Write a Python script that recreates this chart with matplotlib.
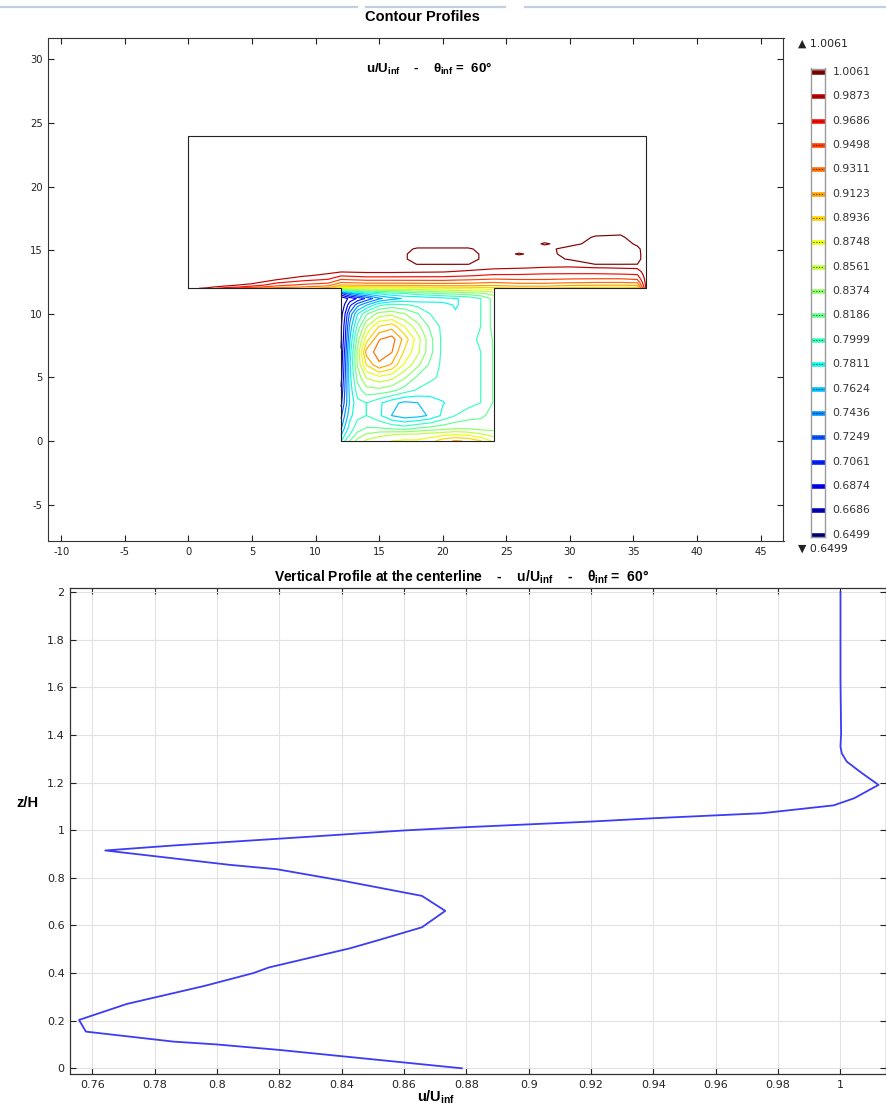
import numpy as np
import matplotlib
matplotlib.use("Agg")
import matplotlib.pyplot as plt
from matplotlib import font_manager
from matplotlib.colors import Normalize
from matplotlib.ticker import FuncFormatter
from matplotlib.lines import Line2D

plt.rcParams["axes.unicode_minus"] = False

# ---------------- data ----------------
# contour levels (legend values)
levels = [0.6499, 0.6686, 0.6874, 0.7061, 0.7249, 0.7436, 0.7624, 0.7811, 0.7999, 0.8186,
          0.8374, 0.8561, 0.8748, 0.8936, 0.9123, 0.9311, 0.9498, 0.9686, 0.9873, 1.0061]
vmin_label = "0.6499"
vmax_label = "1.0061"

# cavity field u/Uinf (rows = cav_y, cols = cav_x)
cav_x = [12, 12.3, 12.7, 13.3, 14, 15, 16, 17, 18, 19, 20, 21, 22, 23, 24]
cav_y = [0, 0.5, 1, 2, 3, 4, 5, 6, 7, 8, 9, 10, 10.7, 11.2, 11.6, 12]
cav_u = [
    [0.780, 0.800, 0.820, 0.845, 0.860, 0.870, 0.875, 0.878, 0.878, 0.885, 0.905, 0.915, 0.910, 0.895, 0.870],
    [0.760, 0.780, 0.800, 0.825, 0.840, 0.850, 0.855, 0.860, 0.860, 0.865, 0.870, 0.875, 0.870, 0.860, 0.850],
    [0.740, 0.765, 0.790, 0.810, 0.820, 0.820, 0.815, 0.810, 0.820, 0.825, 0.830, 0.835, 0.835, 0.830, 0.830],
    [0.720, 0.745, 0.775, 0.795, 0.800, 0.785, 0.762, 0.752, 0.755, 0.765, 0.785, 0.800, 0.810, 0.815, 0.825],
    [0.700, 0.730, 0.765, 0.795, 0.800, 0.785, 0.768, 0.758, 0.762, 0.772, 0.780, 0.787, 0.793, 0.800, 0.820],
    [0.690, 0.725, 0.770, 0.810, 0.830, 0.832, 0.825, 0.810, 0.798, 0.790, 0.788, 0.785, 0.790, 0.800, 0.820],
    [0.680, 0.720, 0.775, 0.825, 0.858, 0.870, 0.862, 0.840, 0.815, 0.805, 0.795, 0.787, 0.790, 0.800, 0.820],
    [0.675, 0.715, 0.778, 0.840, 0.895, 0.928, 0.910, 0.872, 0.843, 0.815, 0.795, 0.785, 0.790, 0.800, 0.820],
    [0.670, 0.710, 0.772, 0.842, 0.920, 0.940, 0.932, 0.890, 0.862, 0.825, 0.795, 0.785, 0.785, 0.800, 0.820],
    [0.665, 0.700, 0.762, 0.828, 0.885, 0.930, 0.940, 0.905, 0.866, 0.825, 0.795, 0.785, 0.790, 0.805, 0.820],
    [0.665, 0.695, 0.750, 0.805, 0.855, 0.895, 0.905, 0.875, 0.845, 0.815, 0.795, 0.785, 0.790, 0.800, 0.825],
    [0.660, 0.685, 0.730, 0.780, 0.815, 0.845, 0.850, 0.838, 0.820, 0.800, 0.790, 0.782, 0.790, 0.800, 0.825],
    [0.655, 0.670, 0.700, 0.735, 0.760, 0.795, 0.805, 0.802, 0.795, 0.790, 0.785, 0.780, 0.785, 0.800, 0.825],
    [0.652, 0.660, 0.675, 0.690, 0.710, 0.740, 0.755, 0.765, 0.765, 0.770, 0.775, 0.780, 0.785, 0.800, 0.825],
    [0.700, 0.720, 0.740, 0.760, 0.770, 0.785, 0.795, 0.800, 0.810, 0.815, 0.820, 0.825, 0.830, 0.835, 0.845],
    [0.860, 0.861, 0.862, 0.865, 0.868, 0.869, 0.870, 0.870, 0.870, 0.872, 0.875, 0.877, 0.878, 0.881, 0.885],
]

# upper channel field u/Uinf (one list per column up_x, values along up_y)
up_x = [0, 1.5, 3, 5, 7, 9, 11, 12, 14, 16, 18, 20, 22, 24, 26, 28, 30, 32, 34, 35.3, 36]
up_y = [12, 12.1, 12.25, 12.45, 12.7, 13.0, 13.3, 13.6, 13.9, 14.3, 14.7, 15.1, 15.5, 16.0, 16.6, 17.5, 24]
up_cols = [
    [0.990, 0.993, 0.995, 0.996, 0.997, 0.997, 0.997, 0.997, 0.997, 0.997, 0.997, 0.997, 0.997, 0.997, 0.997, 0.997, 0.997],
    [0.985, 0.990, 0.994, 0.996, 0.997, 0.997, 0.997, 0.997, 0.997, 0.997, 0.997, 0.997, 0.997, 0.997, 0.997, 0.997, 0.997],
    [0.950, 0.980, 0.992, 0.995, 0.997, 0.997, 0.997, 0.997, 0.997, 0.997, 0.997, 0.997, 0.997, 0.997, 0.997, 0.997, 0.997],
    [0.930, 0.955, 0.980, 0.993, 0.996, 0.997, 0.997, 0.997, 0.997, 0.997, 0.997, 0.997, 0.997, 0.997, 0.997, 0.997, 0.997],
    [0.920, 0.940, 0.955, 0.970, 0.988, 0.995, 0.997, 0.997, 0.997, 0.997, 0.997, 0.997, 0.997, 0.997, 0.997, 0.997, 0.997],
    [0.915, 0.930, 0.945, 0.960, 0.975, 0.990, 0.996, 0.997, 0.997, 0.997, 0.997, 0.997, 0.997, 0.997, 0.997, 0.997, 0.997],
    [0.900, 0.920, 0.937, 0.953, 0.968, 0.982, 0.992, 0.996, 0.997, 0.997, 0.997, 0.997, 0.997, 0.997, 0.997, 0.997, 0.997],
    [0.860, 0.885, 0.910, 0.930, 0.950, 0.970, 0.988, 0.995, 0.997, 0.997, 0.997, 0.997, 0.997, 0.997, 0.997, 0.997, 0.997],
    [0.868, 0.890, 0.915, 0.935, 0.955, 0.975, 0.990, 0.996, 0.997, 0.997, 0.997, 0.997, 0.997, 0.997, 0.997, 0.997, 0.997],
    [0.870, 0.890, 0.915, 0.935, 0.955, 0.975, 0.990, 0.996, 0.997, 0.997, 0.997, 0.997, 0.997, 0.997, 0.997, 0.997, 0.997],
    [0.870, 0.892, 0.916, 0.936, 0.955, 0.974, 0.989, 0.996, 1.0065, 1.012, 1.012, 1.008, 0.998, 0.997, 0.997, 0.997, 0.997],
    [0.875, 0.895, 0.918, 0.937, 0.955, 0.974, 0.988, 0.996, 1.0065, 1.012, 1.012, 1.008, 0.998, 0.997, 0.997, 0.997, 0.997],
    [0.878, 0.897, 0.918, 0.935, 0.952, 0.970, 0.984, 0.994, 1.0065, 1.012, 1.012, 1.008, 0.998, 0.997, 0.997, 0.997, 0.997],
    [0.885, 0.900, 0.915, 0.930, 0.948, 0.965, 0.978, 0.990, 0.996, 0.998, 0.998, 0.998, 0.997, 0.997, 0.997, 0.997, 0.997],
    [0.890, 0.905, 0.920, 0.935, 0.950, 0.965, 0.977, 0.988, 0.995, 0.999, 1.0075, 0.999, 0.997, 0.997, 0.997, 0.997, 0.997],
    [0.890, 0.905, 0.920, 0.935, 0.950, 0.963, 0.975, 0.986, 0.993, 0.998, 1.000, 1.001, 1.0075, 0.999, 0.997, 0.997, 0.997],
    [0.885, 0.900, 0.915, 0.932, 0.948, 0.962, 0.975, 0.985, 0.993, 1.008, 1.012, 1.012, 1.001, 0.997, 0.997, 0.997, 0.997],
    [0.880, 0.897, 0.913, 0.930, 0.947, 0.962, 0.975, 0.986, 1.0065, 1.012, 1.013, 1.013, 1.012, 1.008, 0.998, 0.997, 0.997],
    [0.875, 0.895, 0.912, 0.930, 0.947, 0.963, 0.977, 0.988, 1.0065, 1.012, 1.013, 1.013, 1.012, 1.009, 1.000, 0.997, 0.997],
    [0.880, 0.900, 0.915, 0.932, 0.950, 0.965, 0.978, 0.989, 1.0062, 1.010, 1.010, 1.009, 1.004, 0.998, 0.997, 0.997, 0.997],
    [0.990, 0.992, 0.994, 0.995, 0.996, 0.997, 0.998, 0.999, 1.000, 1.000, 1.000, 1.000, 0.998, 0.997, 0.997, 0.997, 0.997],
]

# domain outline (channel + cavity)
geom_x = [0, 12, 12, 24, 24, 36, 36, 0, 0]
geom_y = [12, 12, 0, 0, 12, 12, 24, 24, 12]

# vertical profile at the centerline
prof_u = [0.8785, 0.820, 0.800, 0.786, 0.7579, 0.7557, 0.771, 0.796, 0.8117, 0.8165, 0.8427, 0.852,
          0.8657, 0.8732, 0.8657, 0.8405, 0.8191, 0.8042, 0.7641, 0.786, 0.8309, 0.8598, 0.8802,
          0.920, 0.940, 0.9748, 0.9978, 1.0044, 1.0122, 1.0068, 1.002, 1.0004, 1.000, 1.0002, 1.000, 1.000]
prof_z = [0.000, 0.077, 0.100, 0.112, 0.154, 0.203, 0.270, 0.346, 0.400, 0.423, 0.504, 0.539,
          0.592, 0.661, 0.724, 0.787, 0.836, 0.854, 0.9146, 0.9356, 0.9734, 0.9986, 1.0126,
          1.036, 1.050, 1.071, 1.104, 1.134, 1.190, 1.240, 1.288, 1.323, 1.351, 1.407, 1.630, 2.000]

top_xticks = list(range(-10, 46, 5))
top_yticks = list(range(-5, 31, 5))
bot_xticks = [0.76, 0.78, 0.80, 0.82, 0.84, 0.86, 0.88, 0.90, 0.92, 0.94, 0.96, 0.98, 1.00]
bot_yticks = [0, 0.2, 0.4, 0.6, 0.8, 1.0, 1.2, 1.4, 1.6, 1.8, 2.0]

# ---------------- fonts ----------------
avail = {f.name for f in font_manager.fontManager.ttflist}
if "Liberation Sans Narrow" in avail:
    TFAM, TS = "Liberation Sans Narrow", 12.5
else:
    TFAM, TS = "Liberation Sans", 10.5
TICKFAM = "DejaVu Sans"

# ---------------- figure ----------------
W, H = 887, 1104
fig = plt.figure(figsize=(W / 100, H / 100), dpi=100)
fig.patch.set_facecolor("white")


def rect(l, t, r, b):
    return [l / W, 1 - b / H, (r - l) / W, (b - t) / H]


def fx(px):
    return px / W


def fy(py):
    return 1 - py / H


# faint header lines
for x0, x1 in [(0, 357), (366, 505), (525, 887)]:
    fig.add_artist(Line2D([fx(x0), fx(x1)], [fy(7), fy(7)], color="#c3cfe2", lw=1.6))

cmap = plt.get_cmap("jet")
norm = Normalize(vmin=levels[0], vmax=levels[-1])

# ---- top: contour panel ----
ax1 = fig.add_axes(rect(48.5, 38, 783.5, 541))
ax1.set_xlim(-11.0, 46.8)
ax1.set_ylim(-7.86, 31.68)
ax1.contour(np.array(cav_x), np.array(cav_y), np.array(cav_u), levels=levels,
            cmap=cmap, norm=norm, linewidths=0.85)
ax1.contour(np.array(up_x), np.array(up_y), np.array(up_cols).T, levels=levels,
            cmap=cmap, norm=norm, linewidths=0.85)
ax1.plot(geom_x, geom_y, color="#222222", lw=0.8, zorder=5)
ax1.set_xticks(top_xticks)
ax1.set_yticks(top_yticks)
ax1.tick_params(direction="in", top=True, right=True, length=4, width=0.8,
                labelsize=7.2, colors="#222222", pad=4)
for lab in ax1.get_xticklabels() + ax1.get_yticklabels():
    lab.set_family(TICKFAM)
for s in ax1.spines.values():
    s.set_color("#333333")
    s.set_linewidth(0.8)

fig.text(fx(422), fy(17), "Contour Profiles", ha="center", va="center",
         family=TFAM, weight="bold", size=TS)
fig.text(fx(429), fy(69),
         r"u/U$_{\mathregular{inf}}$    -    $\mathregular{\theta}_{\mathregular{inf}}$ =  60°",
         ha="center", va="center", family=TFAM, weight="bold", size=TS - 1)

# ---- legend (COMSOL style) ----
ax3 = fig.add_axes(rect(810.5, 68.5, 824.7, 537))
ax3.set_xlim(0, 1)
ax3.set_ylim(-0.09, 19.135)
ax3.set_xticks([])
ax3.set_yticks([])
for s in ax3.spines.values():
    s.set_color("#9a9a9a")
    s.set_linewidth(1.0)
for k, lev in enumerate(levels):
    ax3.plot([0, 1], [k, k], color=cmap(norm(lev)), lw=3.3, solid_capstyle="butt")
    ax3.plot([0.15, 0.85], [k, k], color="black", lw=0.5, dashes=(1.5, 2.5))
    py = 534.8 - k * 24.37
    fig.text(fx(832.5), fy(py), f"{lev:.4f}", ha="left", va="center",
             family=TICKFAM, size=7.8, color="#333333")
fig.text(fx(798.5), fy(44), "\u25B2 " + vmax_label, ha="left", va="center",
         family=TICKFAM, size=7.8, color="#222222")
fig.text(fx(798.5), fy(549), "\u25BC " + vmin_label, ha="left", va="center",
         family=TICKFAM, size=7.8, color="#222222")

# ---- bottom: vertical profile ----
ax2 = fig.add_axes(rect(70.3, 588.3, 886, 1074))
ax2.plot(prof_u, prof_z, color="#3c3cf5", lw=1.3)
ax2.set_xlim(0.7529, 1.0146)
ax2.set_ylim(-0.024, 2.0155)
ax2.set_xticks(bot_xticks)
ax2.set_yticks(bot_yticks)
gfmt = FuncFormatter(lambda v, p: f"{v:g}")
ax2.xaxis.set_major_formatter(gfmt)
ax2.yaxis.set_major_formatter(gfmt)
ax2.grid(True, color="#e2e2e2", lw=0.8)
ax2.set_axisbelow(True)
ax2.tick_params(direction="in", top=True, right=True, length=4, width=0.8,
                labelsize=8, colors="#222222", pad=4)
for lab in ax2.get_xticklabels() + ax2.get_yticklabels():
    lab.set_family(TICKFAM)
for s in ax2.spines.values():
    s.set_color("#333333")
    s.set_linewidth(0.9)

fig.text(fx(462), fy(577),
         r"Vertical Profile at the centerline    -    u/U$_{\mathregular{inf}}$    -    "
         r"$\mathregular{\theta}_{\mathregular{inf}}$ =  60°",
         ha="center", va="center", family=TFAM, weight="bold", size=TS - 0.5)
fig.text(fx(27), fy(803), "z/H", ha="center", va="center", family=TFAM,
         weight="bold", size=TS)
fig.text(fx(436), fy(1097), r"u/U$_{\mathregular{inf}}$", ha="center", va="center",
         family=TFAM, weight="bold", size=TS)

fig.savefig("out.png", dpi=100, facecolor="white")
